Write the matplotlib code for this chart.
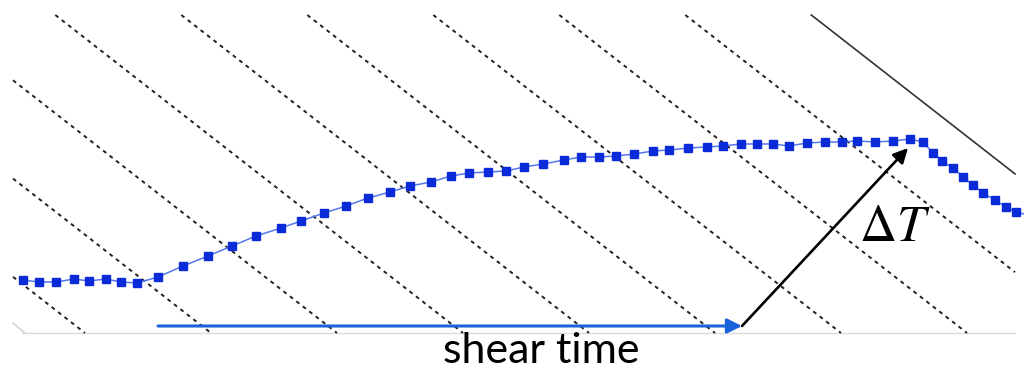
import matplotlib
matplotlib.use("Agg")
import matplotlib.pyplot as plt
import numpy as np

# temperature trace (time, temperature) in arbitrary units
time = [0.1, 1.7, 3.4, 5.2, 6.7, 8.4, 9.9, 11.5, 13.6, 16.1, 18.6, 21.0, 23.4,
        25.9, 27.9, 30.2, 32.4, 34.6, 36.8, 38.8, 40.9, 42.9, 44.7, 46.6, 48.4,
        50.2, 52.1, 54.2, 55.9, 57.7, 59.4, 61.2, 63.1, 64.7, 66.6, 68.5, 70.1,
        71.9, 73.5, 75.1, 76.7, 78.5, 80.3, 82.0, 83.5, 85.3, 87.1, 88.8, 90.1,
        91.1, 92.0, 93.1, 94.1, 95.1, 96.1, 97.3, 98.4, 99.4]
temp = [5.3, 5.1, 5.1, 5.4, 5.2, 5.4, 5.1, 5.0, 5.6, 6.7, 7.7, 8.7, 9.7,
        10.5, 11.2, 12.0, 12.7, 13.5, 14.1, 14.7, 15.1, 15.7, 16.0, 16.1, 16.2,
        16.6, 16.9, 17.3, 17.6, 17.6, 17.7, 17.9, 18.2, 18.3, 18.5, 18.6, 18.7,
        18.9, 18.9, 18.9, 18.7, 19.0, 19.1, 19.1, 19.2, 19.1, 19.2, 19.4, 19.1,
        18.0, 17.2, 16.5, 15.6, 14.8, 14.0, 13.3, 12.6, 12.1]

# diagonal guide lines: where each crosses the baseline
guide_intercepts = [6.3, 18.9, 31.5, 44.1, 56.7, 69.3, 81.9, 94.5, 107.1]
solid_intercept = 119.7
guide_slope = -0.78

# shear window and temperature jump
shear_start, shear_end = 13.6, 72.0
peak_time, peak_temp = 88.6, 18.5

t_left, t_right = -0.9, 99.3
y_top = 31.8

fig = plt.figure(figsize=(10.24, 3.75), dpi=100)
ax = fig.add_axes([0, 0, 1, 1])
ax.set_xlim(-2.2, 100.2)
ax.set_ylim(-4.2, 33.3)
ax.axis('off')


def guide(tb, **kw):
    # clip the line to the box [t_left, t_right] x [0, y_top]
    t0 = max(t_left, tb + y_top / guide_slope)
    t1 = min(t_right, tb)
    t = np.array([t0, t1])
    ax.plot(t, guide_slope * (t - tb), **kw)


for tb in guide_intercepts:
    guide(tb, color='#222222', lw=1.4, linestyle=(0, (2.0, 2.2)), zorder=1)
guide(solid_intercept, color='#333333', lw=1.2, zorder=1)

# faint baseline
ax.plot([0.0, t_right], [0, 0], color='#dcdcdc', lw=1.0, zorder=0)
ax.plot([-0.9, 0.3], [1.0, 0], color='#cfcfcf', lw=1.0, zorder=0)

# temperature trace
ax.plot(time + [100.2], temp + [11.9], color='#5577ee', lw=1.1, zorder=3)
ax.plot(time, temp, linestyle='none', marker='s', markersize=5.5,
        color='#0b2ad8', zorder=4)

# shear time arrow
ax.annotate('', xy=(shear_end, 0.7), xytext=(shear_start, 0.7),
            arrowprops=dict(arrowstyle='-|>', color='#1a62dc', lw=2.2,
                            mutation_scale=22, shrinkA=0, shrinkB=0),
            zorder=5)
# delta T arrow
ax.annotate('', xy=(peak_time, peak_temp), xytext=(shear_end, 0.7),
            arrowprops=dict(arrowstyle='-|>', color='black', lw=1.9,
                            mutation_scale=22, shrinkA=0, shrinkB=0),
            zorder=5)

plt.rcParams['mathtext.fontset'] = 'stix'
ax.text(87.3, 10.6, r'$\Delta T$', fontsize=37, ha='center', va='center')
ax.text(51.9, -3.0, 'shear time', fontsize=31, family='Lato',
        ha='center', va='baseline')

fig.savefig('out.png', dpi=100)
